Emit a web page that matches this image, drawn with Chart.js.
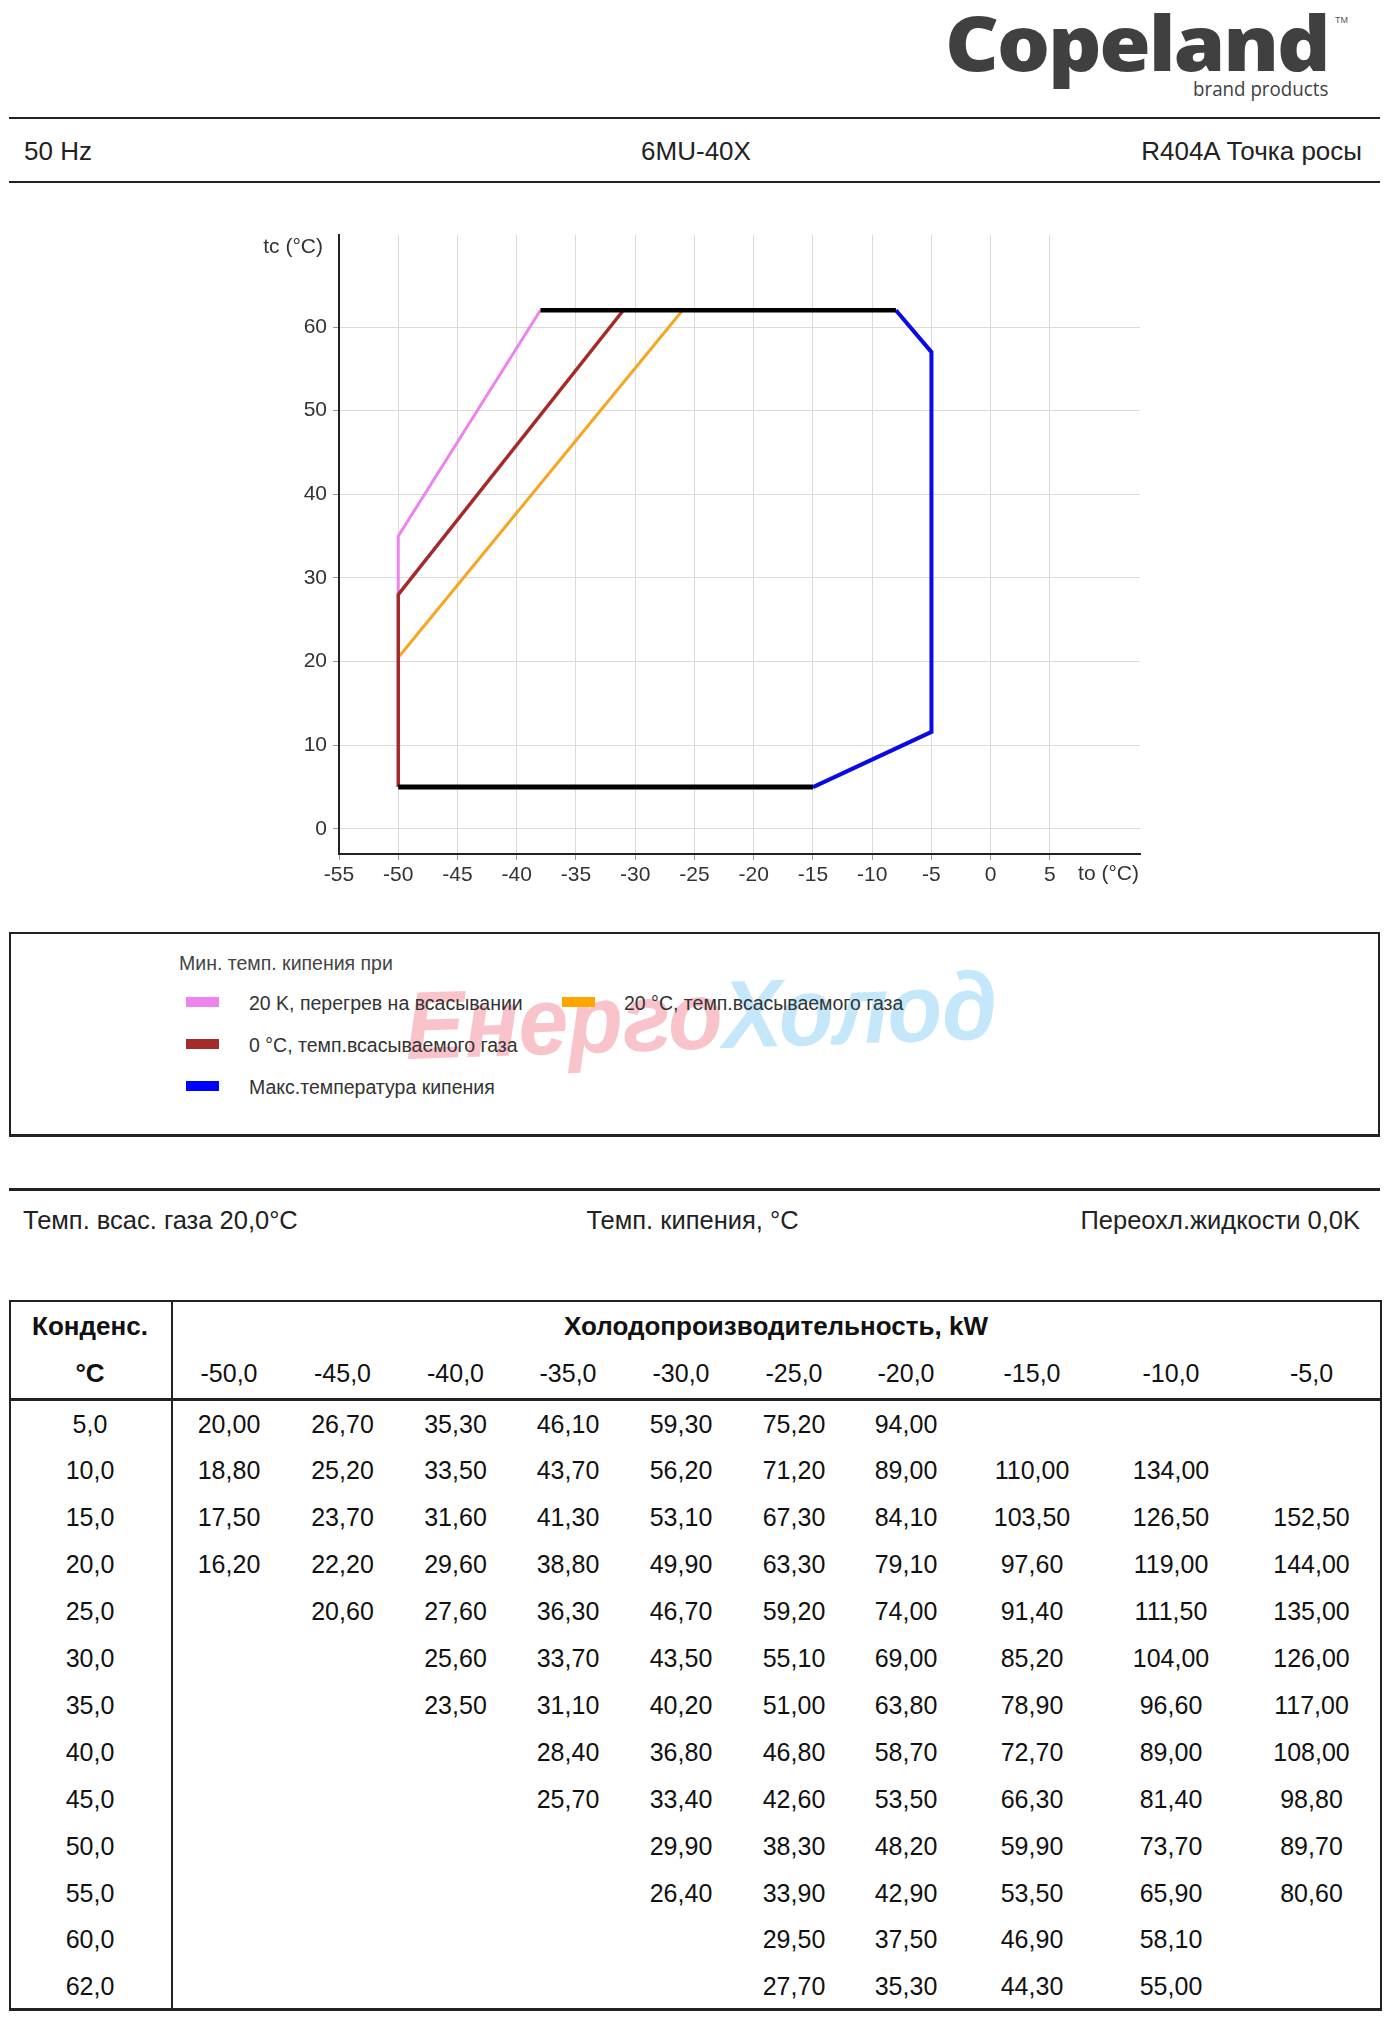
<!DOCTYPE html>
<html>
<head>
<meta charset="utf-8">
<script src="https://cdn.jsdelivr.net/npm/chart.js@4.4.1/dist/chart.umd.min.js"></script>
<style>
html, body { margin: 0; padding: 0; background: #fff; }
body { width: 1396px; height: 2019px; position: relative; overflow: hidden;
       font-family: "Liberation Sans", Arial, sans-serif; color: #222; }
.abs { position: absolute; white-space: nowrap; }
.rule { position: absolute; background: #222; }
.swatch { position: absolute; width: 33px; height: 10px; }
</style>
</head>
<body>

<!-- шапка -->
<div id="logo" class="abs" style="left:945px;top:4px;font:800 76px/76px 'Open Sans',sans-serif;color:#404040;letter-spacing:-2px;transform-origin:0 0;">Copeland</div>
<div class="abs" style="left:1335px;top:16px;font:9px/9px 'Liberation Sans',Arial;color:#555;">TM</div>
<div id="brand" class="abs" style="left:1193px;top:79px;font:20px/20px 'Open Sans',sans-serif;color:#404040;transform-origin:0 0;">brand products</div>

<div class="rule" style="left:9px;top:117px;width:1371px;height:2px;"></div>
<div class="abs" style="left:24px;top:138px;font:26px/26px 'Liberation Sans',Arial;">50 Hz</div>
<div class="abs" style="left:0;width:1392px;text-align:center;top:138px;font:26px/26px 'Liberation Sans',Arial;">6MU-40X</div>
<div class="abs" style="right:34px;top:138px;font:26px/26px 'Liberation Sans',Arial;">R404A Точка росы</div>
<div class="rule" style="left:9px;top:181px;width:1371px;height:2px;"></div>

<!-- график -->
<div class="abs" style="left:200px;top:215px;width:960px;height:700px;">
  <canvas id="envelope" width="960" height="700" style="width:960px;height:700px;"></canvas>
</div>
<div class="abs" style="right:1073px;top:235px;font:21px/21px 'Liberation Sans',Arial;color:#333;">tc (°C)</div>
<div class="abs" style="right:257px;top:862px;font:21px/21px 'Liberation Sans',Arial;color:#333;">to (°C)</div>

<!-- легенда -->
<div class="abs" style="left:9px;top:932px;width:1371px;height:205px;box-sizing:border-box;border:2px solid #222;border-bottom-width:3px;"></div>
<div class="abs" style="left:405px;top:978px;font:italic 700 96px/96px 'Liberation Sans',Arial;transform:rotate(-2deg) scaleX(0.93);transform-origin:0 50%;">
  <span style="color:#f8c3ca;">Енерго</span><span style="color:#c4e7f9;">Холод</span>
</div>
<div id="legend"></div>

<div class="rule" style="left:9px;top:1188px;width:1371px;height:3px;"></div>
<div class="abs" style="left:23px;top:1207px;font:25.5px/26px 'Liberation Sans',Arial;">Темп. всас. газа 20,0°C</div>
<div class="abs" style="left:0;width:1385px;text-align:center;top:1207px;font:25.5px/26px 'Liberation Sans',Arial;">Темп. кипения, °C</div>
<div class="abs" style="right:36px;top:1207px;font:25.5px/26px 'Liberation Sans',Arial;">Переохл.жидкости 0,0K</div>

<!-- таблица -->
<div id="table"></div>

<script>
// границы области применения (to, tc)
const superheat20X = [-50, -50, -38];
const superheat20Y = [28, 35, 62];
const returnGas0X = [-50, -50, -31];
const returnGas0Y = [5, 28, 62];
const returnGas20X = [-50, -26];
const returnGas20Y = [20.5, 62];
const maxEvapX = [-8, -5, -5, -15];
const maxEvapY = [62, 57, 11.6, 5];
const limitBottomX = [-50, -15];
const limitBottomY = [5, 5];
const limitTopX = [-38, -8];
const limitTopY = [62, 62];

const xTickValues = [-55, -50, -45, -40, -35, -30, -25, -20, -15, -10, -5, 0, 5];
const yTickValues = [0, 10, 20, 30, 40, 50, 60];

const legendTitle = 'Мин. темп. кипения при';
const legendLabels = ['20 K, перегрев на всасывании', '20 °C, темп.всасываемого газа',
                      '0 °C, темп.всасываемого газа', 'Макс.температура кипения'];
const legendColors = ['#ee82ee', '#ffa500', '#a52a2a', '#0000ff'];

// таблица холодопроизводительности
const evapTemps = [-50, -45, -40, -35, -30, -25, -20, -15, -10, -5];
const condTemps = [5, 10, 15, 20, 25, 30, 35, 40, 45, 50, 55, 60, 62];
const cap5  = [20.00, 26.70, 35.30, 46.10, 59.30, 75.20, 94.00, null, null, null];
const cap10 = [18.80, 25.20, 33.50, 43.70, 56.20, 71.20, 89.00, 110.00, 134.00, null];
const cap15 = [17.50, 23.70, 31.60, 41.30, 53.10, 67.30, 84.10, 103.50, 126.50, 152.50];
const cap20 = [16.20, 22.20, 29.60, 38.80, 49.90, 63.30, 79.10, 97.60, 119.00, 144.00];
const cap25 = [null, 20.60, 27.60, 36.30, 46.70, 59.20, 74.00, 91.40, 111.50, 135.00];
const cap30 = [null, null, 25.60, 33.70, 43.50, 55.10, 69.00, 85.20, 104.00, 126.00];
const cap35 = [null, null, 23.50, 31.10, 40.20, 51.00, 63.80, 78.90, 96.60, 117.00];
const cap40 = [null, null, null, 28.40, 36.80, 46.80, 58.70, 72.70, 89.00, 108.00];
const cap45 = [null, null, null, 25.70, 33.40, 42.60, 53.50, 66.30, 81.40, 98.80];
const cap50 = [null, null, null, null, 29.90, 38.30, 48.20, 59.90, 73.70, 89.70];
const cap55 = [null, null, null, null, 26.40, 33.90, 42.90, 53.50, 65.90, 80.60];
const cap60 = [null, null, null, null, null, 29.50, 37.50, 46.90, 58.10, null];
const cap62 = [null, null, null, null, null, 27.70, 35.30, 44.30, 55.00, null];
const capacityRows = [cap5, cap10, cap15, cap20, cap25, cap30, cap35, cap40, cap45, cap50, cap55, cap60, cap62];

// логотип растянуть до ширины оригинала
const logo = document.getElementById('logo');
logo.style.transform = 'scaleX(' + (383 / logo.offsetWidth) + ')';
const brand = document.getElementById('brand');
brand.style.transform = 'scaleX(' + (135 / brand.offsetWidth) + ')';

function text(parent, str, css) {
    const d = document.createElement('div');
    d.className = 'abs';
    d.textContent = str;
    d.style.cssText += css;
    parent.appendChild(d);
    return d;
}

// легенда
const legend = document.getElementById('legend');
text(legend, legendTitle, 'left:179px;top:953px;font:19.5px/20px "Liberation Sans",Arial;color:#444;');
const legendPos = [[186, 249, 1003], [562, 624, 1003], [186, 249, 1045], [186, 249, 1087]];
legendLabels.forEach((lab, i) => {
    const [sx, tx, cy] = legendPos[i];
    const sw = document.createElement('div');
    sw.className = 'swatch';
    sw.style.cssText += 'left:' + sx + 'px;top:' + (cy - 6) + 'px;background:' + legendColors[i] + ';';
    legend.appendChild(sw);
    text(legend, lab, 'left:' + tx + 'px;top:' + (cy - 10) + 'px;font:19.5px/20px "Liberation Sans",Arial;color:#333;');
});

// таблица
const tbl = document.getElementById('table');
const rule = (l, t, w, h) => {
    const d = document.createElement('div');
    d.className = 'rule';
    d.style.cssText += 'left:' + l + 'px;top:' + t + 'px;width:' + w + 'px;height:' + h + 'px;';
    tbl.appendChild(d);
};
rule(9, 1300, 1373, 2);
rule(9, 1398, 1373, 3);
rule(9, 2008, 1373, 3);
rule(9, 1300, 2, 711);
rule(1380, 1300, 2, 711);
rule(171, 1300, 2, 711);

const colCenters = [229, 342.5, 455.5, 568, 681, 794, 906, 1032, 1171, 1311.5];
const firstColCenter = 90;
const cell = (str, cx, cy, bold) => {
    const size = bold ? 26 : 25;
    text(tbl, str, 'left:' + (cx - 80) + 'px;width:160px;text-align:center;top:' + (cy - size / 2) +
        'px;font:' + (bold ? '700 ' : '') + size + 'px/' + size + 'px "Liberation Sans",Arial;color:#111;');
};
const fmt = (v, d) => v.toFixed(d).replace('.', ',');

cell('Конденс.', firstColCenter, 1326, true);
cell('°C', firstColCenter, 1373, true);
text(tbl, 'Холодопроизводительность, kW', 'left:172px;width:1208px;text-align:center;top:1313px;font:700 26px/26px "Liberation Sans",Arial;color:#111;');
evapTemps.forEach((t, i) => cell(fmt(t, 1), colCenters[i], 1373, false));
condTemps.forEach((tc, r) => {
    const cy = 1424 + r * 46.9;
    cell(fmt(tc, 1), firstColCenter, cy, false);
    capacityRows[r].forEach((v, i) => {
        if (v !== null) cell(fmt(v, 2), colCenters[i], cy, false);
    });
});

// график
Chart.defaults.font.family = '"Liberation Sans", Arial, sans-serif';

function series(xs, ys, color, width) {
    return {
        data: xs.map((x, i) => ({x: x, y: ys[i]})),
        borderColor: color,
        backgroundColor: color,
        borderWidth: width,
        showLine: true,
        pointRadius: 0,
        pointHoverRadius: 0,
        fill: false,
        tension: 0
    };
}

new Chart(document.getElementById('envelope'), {
    type: 'scatter',
    data: {
        datasets: [
            series(limitTopX, limitTopY, '#000000', 4.5),
            series(limitBottomX, limitBottomY, '#000000', 5),
            series(maxEvapX, maxEvapY, '#0a0ae6', 4),
            series(returnGas0X, returnGas0Y, '#a52a2a', 3.5),
            series(superheat20X, superheat20Y, '#ee82ee', 3),
            series(returnGas20X, returnGas20Y, '#f5a623', 3)
        ]
    },
    options: {
        responsive: false,
        animation: false,
        events: [],
        layout: {padding: {top: 20, right: 20, bottom: 0, left: 0}},
        plugins: {legend: {display: false}, tooltip: {enabled: false}},
        scales: {
            x: {
                type: 'linear', min: -55, max: 12.6,
                afterBuildTicks: s => { s.ticks = xTickValues.map(v => ({value: v})); },
                afterFit: s => { s.height = 61; },
                grid: {color: '#dadada', lineWidth: 1, tickLength: 6, tickColor: '#999'},
                border: {color: '#222', width: 2},
                ticks: {color: '#333', font: {size: 21}, padding: 3, maxRotation: 0, autoSkip: false}
            },
            y: {
                type: 'linear', min: -3, max: 71,
                afterBuildTicks: s => { s.ticks = yTickValues.map(v => ({value: v})); },
                afterFit: s => { s.width = 139; },
                grid: {color: '#dadada', lineWidth: 1, tickLength: 6, tickColor: '#999'},
                border: {color: '#222', width: 2},
                ticks: {color: '#333', font: {size: 21}, padding: 6, autoSkip: false}
            }
        }
    }
});
</script>
</body>
</html>
